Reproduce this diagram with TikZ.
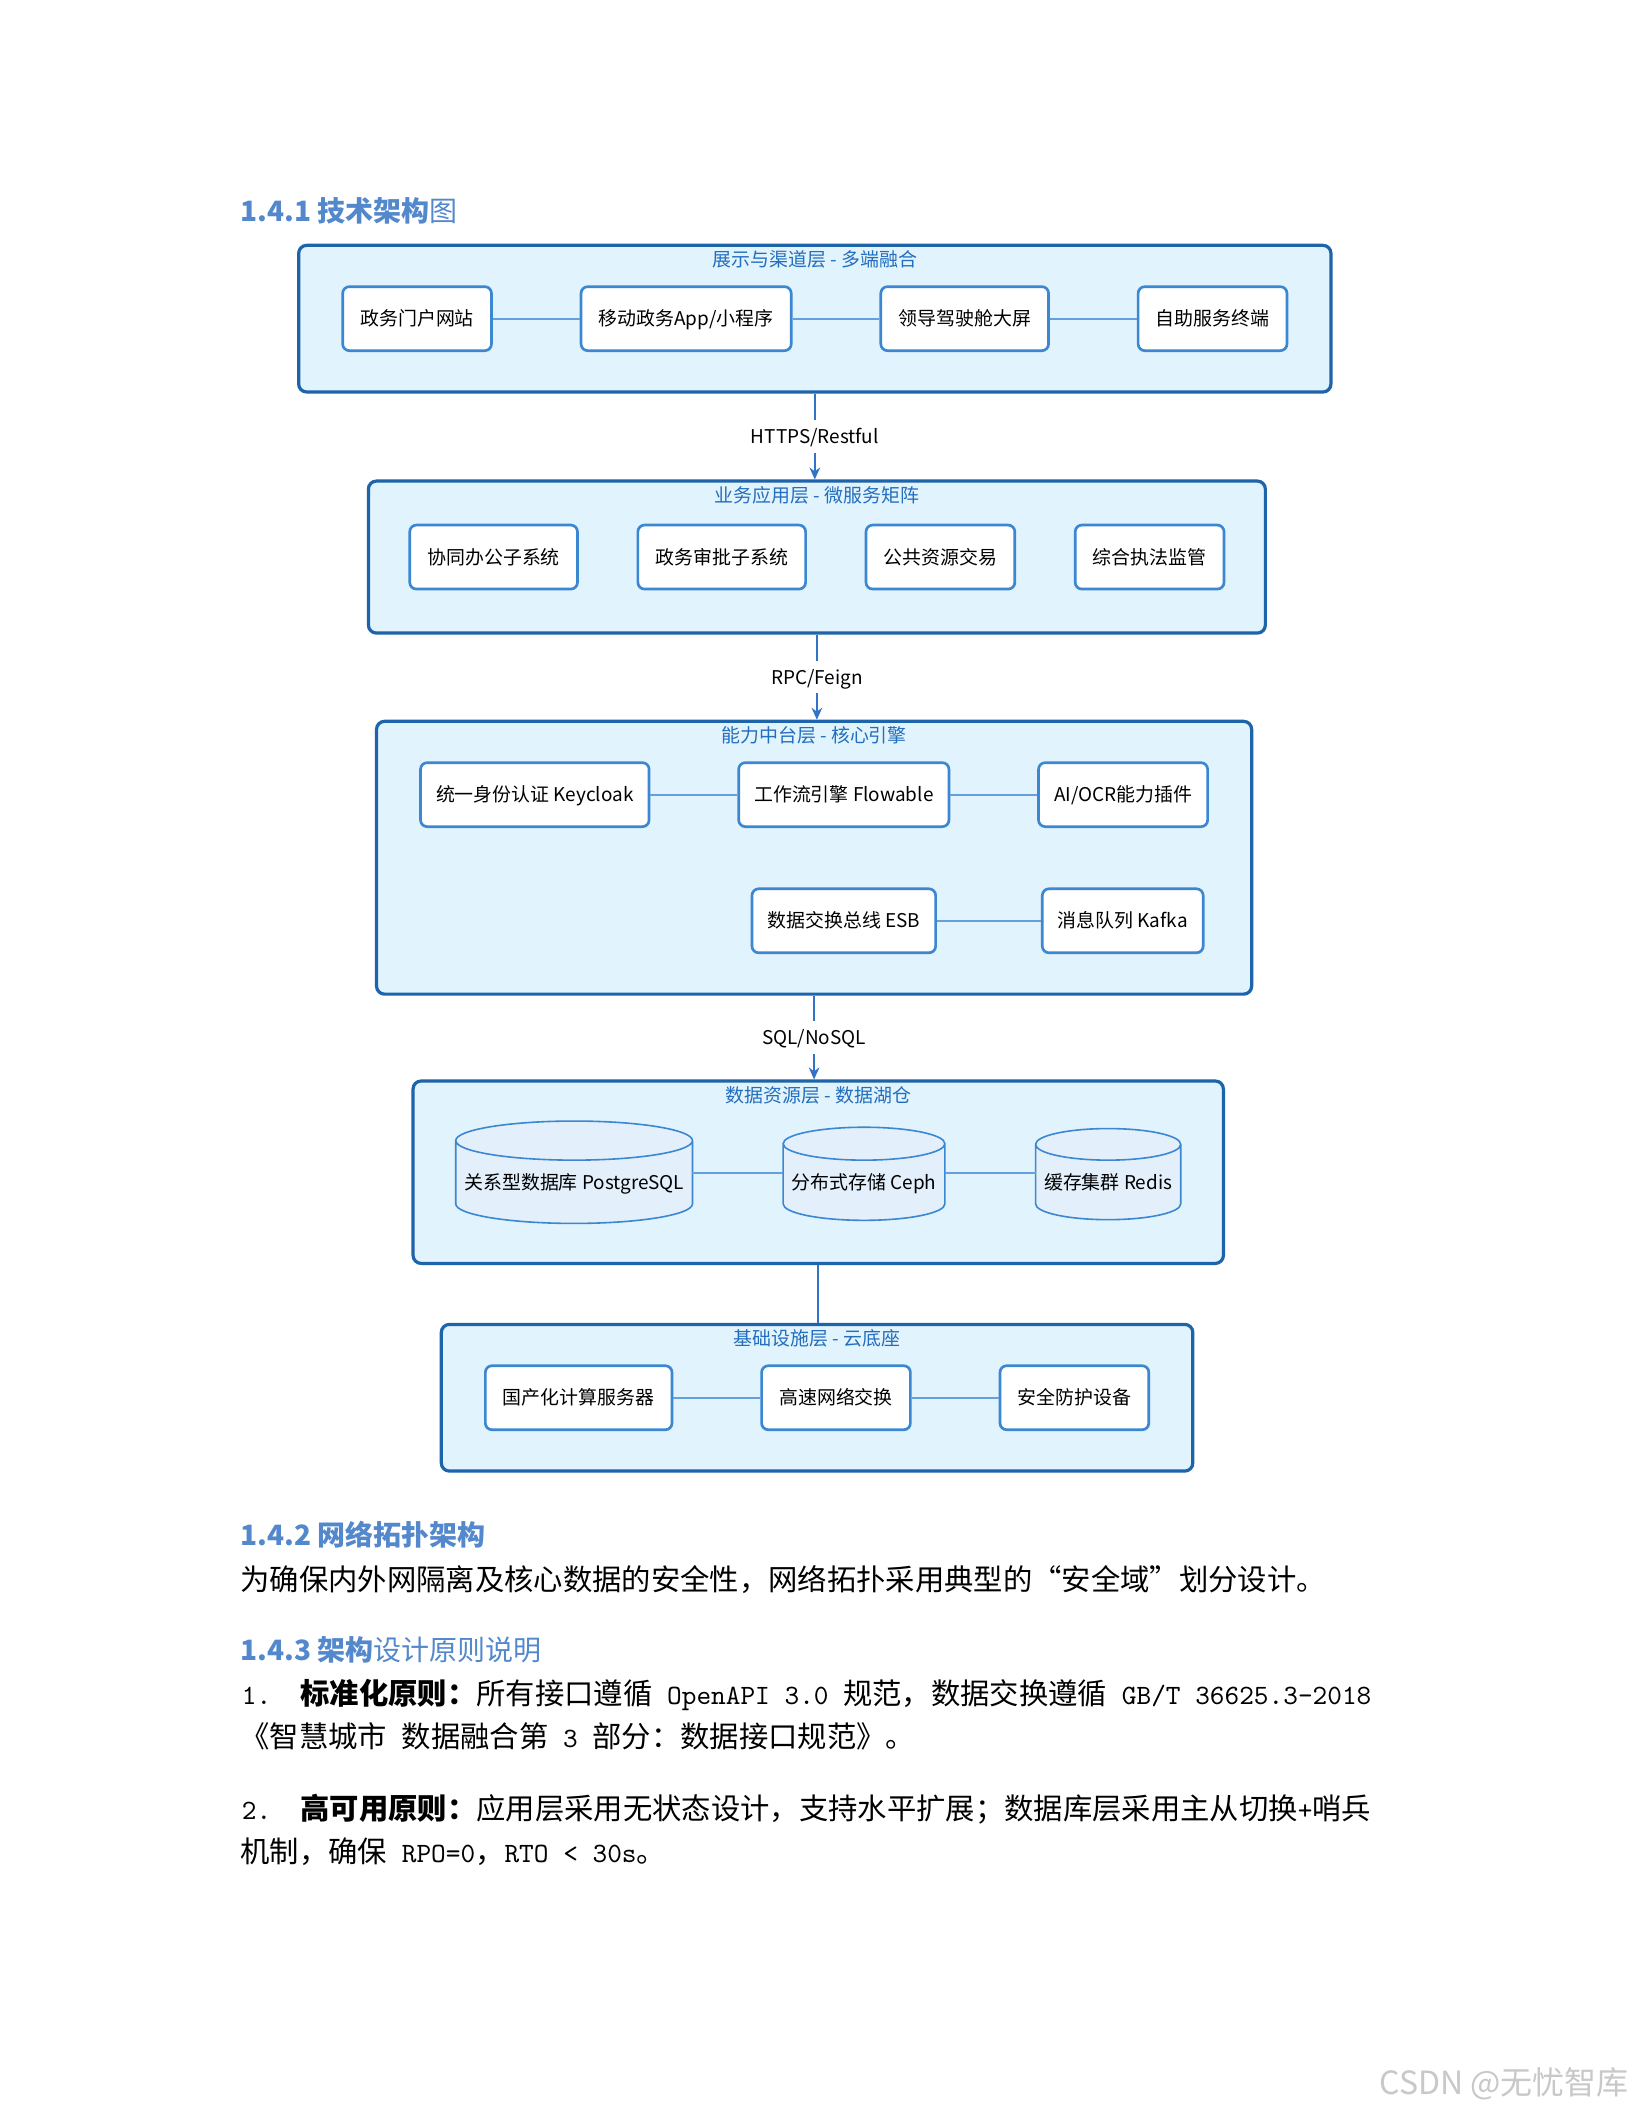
\documentclass[tikz,border=0pt]{standalone}
\usepackage{fontspec}
\setmainfont{Noto Sans CJK SC}
\usepackage{tikz}
\usetikzlibrary{arrows.meta,positioning,fit,backgrounds,calc}
\definecolor{layerblue}{RGB}{30,100,170}
\definecolor{layerfill}{RGB}{225,243,252}
\definecolor{boxblue}{RGB}{60,135,210}
\definecolor{titleblue}{RGB}{35,110,190}
\definecolor{linkblue}{RGB}{100,160,220}
\definecolor{arrowblue}{RGB}{50,115,200}
\definecolor{dbfill}{RGB}{227,240,251}
\definecolor{headblue}{RGB}{84,136,204}
\definecolor{markgray}{RGB}{200,200,200}
\newcommand{\hw}[1]{{\ttfamily\fontsize{10.48pt}{13pt}\selectfont#1}}
\tikzset{
    line/.style      = {-{Stealth[length=4.5pt,width=4pt]}, line width=0.6pt, draw=arrowblue},
    plainline/.style = {line width=0.6pt, draw=arrowblue},
    link/.style      = {line width=0.75pt, draw=linkblue},
    layer/.style     = {draw=layerblue, line width=1.2pt, fill=layerfill,
            rounded corners=3pt, inner xsep=16pt, inner ysep=15pt},
    layertitle/.style = {text=titleblue, inner sep=0pt,
            font=\fontsize{7.1pt}{8.5pt}\selectfont, text height=6.2pt, text depth=0.9pt},
    block/.style     = {draw=boxblue, line width=1pt, fill=white,
            minimum height=24pt, inner xsep=6.6pt, rounded corners=2.5pt,
            font=\fontsize{7.1pt}{8.5pt}\selectfont, text height=6.2pt, text depth=0.9pt},
    coreblock/.style = {block, inner xsep=5.8pt},
    dbnode/.style    = {minimum height=16pt, inner xsep=3pt,
            font=\fontsize{7.1pt}{8.5pt}\selectfont, text height=6.2pt, text depth=0.9pt},
    dbshape/.style   = {draw=boxblue, line width=0.6pt, fill=dbfill},
    edgelabel/.style = {fill=white, inner sep=2.5pt,
            font=\fontsize{7.1pt}{8.5pt}\selectfont, text height=6.2pt, text depth=0.9pt},
    heading/.style   = {anchor=west, inner sep=0pt, text=headblue,
            font=\fontsize{10.5pt}{13pt}\selectfont, text height=9.2pt, text depth=1.3pt},
    bodytext/.style  = {anchor=west, inner sep=0pt,
            font=\fontsize{11pt}{13pt}\selectfont, text height=9.6pt, text depth=1.3pt},
}
\begin{document}
\begin{tikzpicture}[x=0.5pt, y=-0.5pt, node distance=22.3pt and 32.6pt]
    \useasboundingbox (0,0) rectangle (1224,1584);
    % Heading
    \node[heading] (h141) at (180,158.5) {\textbf{1.4.1 技术架构}图};
    % Layer 1 nodes
    \node[block, anchor=west] (portal) at (256,239) {政务门户网站};
    \node[block, right=of portal] (mobile) {移动政务App/小程序};
    \node[block, right=of mobile] (cockpit) {领导驾驶舱大屏};
    \node[block, right=of cockpit] (kiosk) {自助服务终端};
    % Layer 2 nodes
    \node[block, anchor=west] (office) at (306.3,417.8) {协同办公子系统};
    \node[block, right=21.65pt of office] (approve) {政务审批子系统};
    \node[block, right=21.65pt of approve] (trade) {公共资源交易};
    \node[block, right=21.65pt of trade] (enforce) {综合执法监管};
    % Layer 3 nodes
    \node[coreblock, anchor=west] (keycloak) at (314.4,596) {统一身份认证 Keycloak};
    \node[coreblock, right=of keycloak] (flowable) {工作流引擎 Flowable};
    \node[coreblock, right=of flowable] (ocr) {AI/OCR能力插件};
    \node[coreblock, below=of flowable] (esb) {数据交换总线 ESB};
    \node[coreblock, right=39pt of esb] (kafka) {消息队列 Kafka};
    % Layer 4 nodes
    \node[dbnode, anchor=west] (pgsql) at (341.8,886.5) {关系型数据库 PostgreSQL};
    \node[dbnode, right=34pt of pgsql] (ceph) {分布式存储 Ceph};
    \node[dbnode, right=34pt of ceph] (redis) {缓存集群 Redis};
    \coordinate (dbtop) at ([yshift=14.67pt]pgsql.north west);
    \coordinate (dbbottom) at ([yshift=-7.33pt]pgsql.south);
    % Layer 5 nodes
    \node[block, anchor=west] (server) at (363,1048.3) {国产化计算服务器};
    \node[block, right=of server] (switch) {高速网络交换};
    \node[block, right=of switch] (guard) {安全防护设备};
    % Layer boxes
    \begin{scope}[on background layer]
        \fill[white] (0,0) rectangle (1224,1584);
        \node[layer, fit=(portal)(kiosk)] (L1) {};
        \node[layer, inner xsep=15pt, inner ysep=16pt, fit=(office)(enforce)] (L2) {};
        \node[layer, fit=(keycloak)(ocr)(esb)(kafka)] (L3) {};
        \node[layer, fit=(dbtop)(dbbottom)(redis.east)] (L4) {};
        \node[layer, fit=(server)(guard)] (L5) {};
        % cylinders
        \foreach \db/\r in {pgsql/7.33pt, ceph/6.17pt, redis/5.92pt}{
            \path[dbshape] let \p1 = ($(\db.east)-(\db.west)$) in
                ([yshift=\r]\db.north west) -- (\db.south west)
                arc[start angle=180, end angle=360, x radius=0.5*\x1, y radius=\r]
                -- ([yshift=\r]\db.north east)
                arc[start angle=0, end angle=180, x radius=0.5*\x1, y radius=\r]
                arc[start angle=180, end angle=360, x radius=0.5*\x1, y radius=\r];
        }
    \end{scope}
    \node[layertitle] (t1) at ([yshift=-6pt]L1.north) {展示与渠道层 - 多端融合};
    \node[layertitle] (t2) at ([yshift=-6pt]L2.north) {业务应用层 - 微服务矩阵};
    \node[layertitle] (t3) at ([yshift=-6pt]L3.north) {能力中台层 - 核心引擎};
    \node[layertitle] (t4) at ([yshift=-6pt]L4.north) {数据资源层 - 数据湖仓};
    \node[layertitle] (t5) at ([yshift=-6pt]L5.north) {基础设施层 - 云底座};
    % Links
    \draw[link] (portal) -- (mobile);
    \draw[link] (mobile) -- (cockpit);
    \draw[link] (cockpit) -- (kiosk);
    \draw[link] (keycloak) -- (flowable);
    \draw[link] (flowable) -- (ocr);
    \draw[link] (esb) -- (kafka);
    \draw[link] ([yshift=3.45pt]pgsql.east) -- ([yshift=3.45pt]ceph.west);
    \draw[link] ([yshift=3.45pt]ceph.east) -- ([yshift=3.45pt]redis.west);
    \draw[link] (server) -- (switch);
    \draw[link] (switch) -- (guard);
    % Arrows
    \draw[line] (L1.south) -- node[edgelabel]{HTTPS/Restful} (L1.south |- L2.north);
    \draw[line] (L2.south) -- node[edgelabel]{RPC/Feign} (L2.south |- L3.north);
    \draw[line] (L3.south) -- node[edgelabel]{SQL/NoSQL} (L3.south |- L4.north);
    \draw[plainline] (L4.south) -- (L4.south |- L5.north);
    % Text below
    \node[heading] (h142) at (180,1150.9) {\textbf{1.4.2 网络拓扑架构}};
    \node[bodytext] (p142) at (180,1184.2) {为确保内外网隔离及核心数据的安全性，网络拓扑采用典型的“安全域”划分设计。};
    \node[heading] (h143) at (180,1237.8) {\textbf{1.4.3 架构}设计原则说明};
    \node[bodytext] (n1) at (181,1270) {\hw{1.}};
    \node[bodytext] (rule1) at (225,1270) {\textbf{标准化原则：}所有接口遵循\hw{\ OpenAPI 3.0\ }规范，数据交换遵循\hw{\ GB/T 36625.3-2018}};
    \node[bodytext] (rule1b) at (180,1302.5) {《智慧城市\hw{\ }数据融合第\hw{\ 3\ }部分：数据接口规范》。};
    \node[bodytext] (n2) at (181,1356.5) {\hw{2.}};
    \node[bodytext] (rule2) at (225,1356.5) {\textbf{高可用原则：}应用层采用无状态设计，支持水平扩展；数据库层采用主从切换\hw{+}哨兵};
    \node[bodytext] (rule2b) at (180,1388.5) {机制，确保\hw{\ RPO=0}，\hw{RTO < 30s}。};
    \node[anchor=east, inner sep=0pt, text=markgray, font=\fontsize{12pt}{14pt}\selectfont] (mark) at (1222,1563) {CSDN @无忧智库};
\end{tikzpicture}
\end{document}
